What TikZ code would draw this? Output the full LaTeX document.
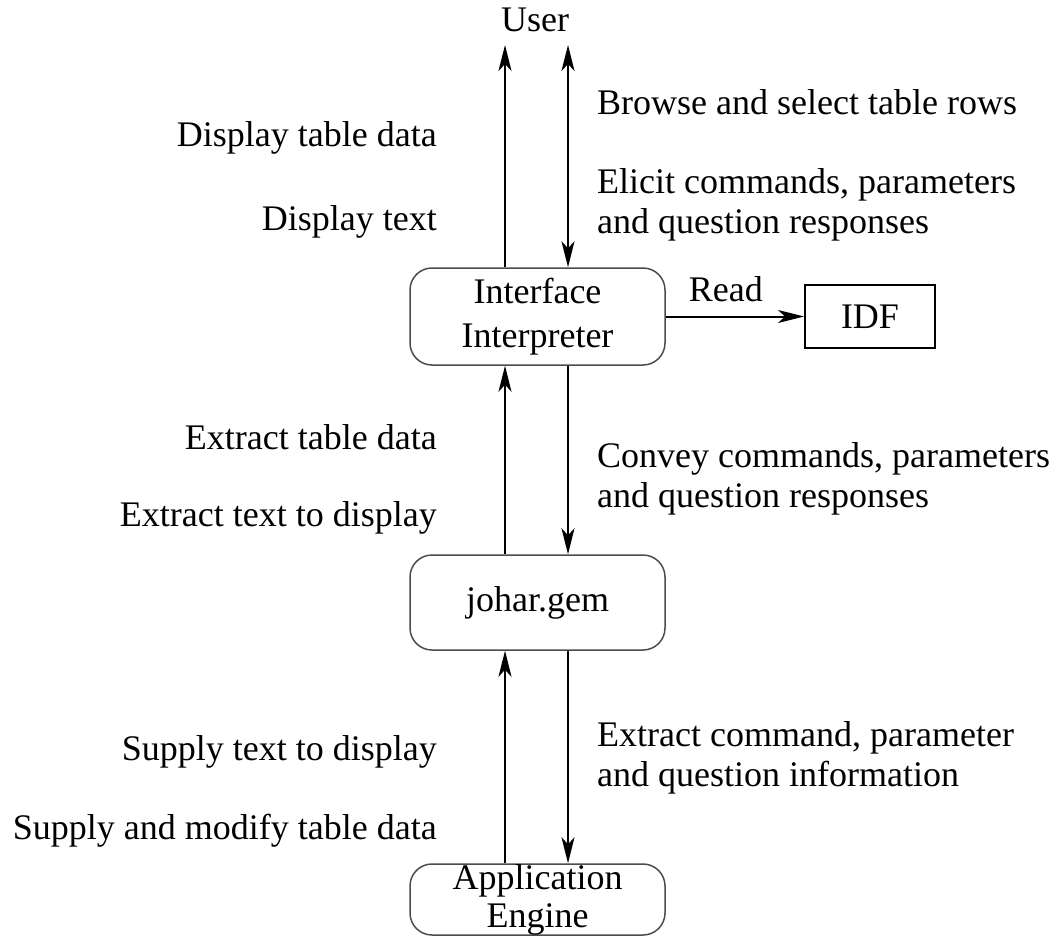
\documentclass[tikz,border=0pt]{standalone}
\usepackage{fontspec}
\setmainfont{Liberation Serif}
\usetikzlibrary{arrows.meta}
\begin{document}
\begin{tikzpicture}[x=1pt,y=-1pt,
  lbl/.style={inner sep=0pt, font=\fontsize{36}{40}\selectfont},
  rbox/.style={draw=black!70, line width=1.5pt, rounded corners=22pt, minimum width=255pt, inner sep=0pt, align=center, font=\fontsize{36}{44}\selectfont},
  sbox/.style={draw=black, line width=2pt, minimum width=130pt, minimum height=63pt, inner sep=0pt, font=\fontsize{36}{40}\selectfont},
  tip/.tip={Stealth[length=26pt,width=13pt,inset=7pt]},
  arr/.style={line width=2pt, -tip},
  darr/.style={line width=2pt, tip-tip}]
\useasboundingbox (0,0) rectangle (1062,936);

% nodes
\node[lbl] (user) at (535,20) {User};
\node[rbox, minimum height=97pt] (ii) at (537.5,316.5) {Interface\\Interpreter};
\node[sbox] (idf) at (870,316.5) {IDF};
\node[rbox, minimum height=95pt] (jg) at (537.5,602.5) {johar.gem};
\node[rbox, minimum height=71pt, font=\fontsize{36}{38}\selectfont] (ae) at (537.5,899.5) {Application\\Engine};

\coordinate (tl) at (505,45);
\coordinate (tr) at (568,45);
\coordinate (L) at (505,0);
\coordinate (R) at (568,0);

% connectors
\draw[arr] (L |- ii.north) -- (tl);
\draw[darr] (tr) -- (R |- ii.north);
\draw[arr] (L |- jg.north) -- (L |- ii.south);
\draw[arr] (R |- ii.south) -- (R |- jg.north);
\draw[arr] (L |- ae.north) -- (L |- jg.south);
\draw[arr] (R |- jg.south) -- (R |- ae.north);
\draw[arr] (ii.east) -- node[lbl, above=14pt, xshift=-9pt] (read) {Read} (idf.west);

% left labels
\node[lbl, anchor=east] (l1) at (437,138) {Display table data};
\node[lbl, anchor=east] (l2) at (437,222) {Display text};
\node[lbl, anchor=east] (l3) at (437,437) {Extract table data};
\node[lbl, anchor=east] (l4) at (437,518) {Extract text to display};
\node[lbl, anchor=east] (l5) at (437,752) {Supply text to display};
\node[lbl, anchor=east] (l6) at (437,831) {Supply and modify table data};

% right labels
\node[lbl, anchor=west] (r1) at (597,102) {Browse and select table rows};
\node[lbl, anchor=west, align=left] (r2) at (597,205) {Elicit commands, parameters\\and question responses};
\node[lbl, anchor=west, align=left] (r3) at (597,479) {Convey commands, parameters\\and question responses};
\node[lbl, anchor=west, align=left] (r4) at (597,758) {Extract command, parameter\\and question information};
\end{tikzpicture}
\end{document}
